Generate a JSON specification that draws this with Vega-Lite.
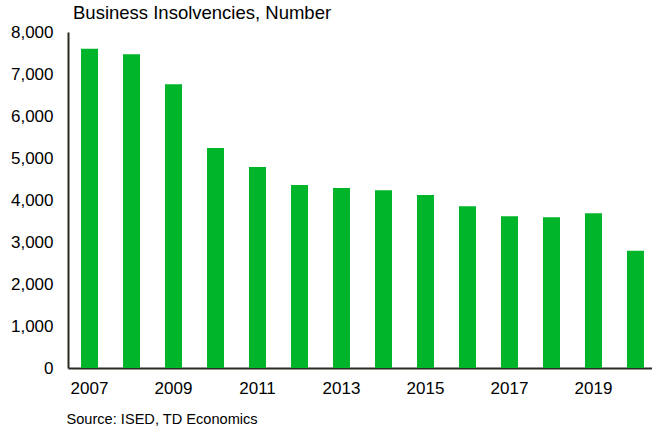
{
  "$schema": "https://vega.github.io/schema/vega-lite/v6.json",
  "autosize": "none",
  "width": 589,
  "height": 336,
  "padding": {"left": 68, "top": 32, "right": 0, "bottom": 61},
  "background": "white",
  "title": {
    "text": "Business Insolvencies, Number",
    "anchor": "start",
    "frame": "group",
    "dx": 5,
    "dy": 24,
    "offset": 10,
    "baseline": "alphabetic",
    "font": "Liberation Sans",
    "fontSize": 18.5,
    "fontWeight": "normal",
    "color": "#000000"
  },
  "config": {
    "view": {"stroke": null},
    "font": "Liberation Sans"
  },
  "data": {
    "values": [
      {"year": 2007, "value": 7600},
      {"year": 2008, "value": 7470},
      {"year": 2009, "value": 6755},
      {"year": 2010, "value": 5240},
      {"year": 2011, "value": 4785},
      {"year": 2012, "value": 4357},
      {"year": 2013, "value": 4286},
      {"year": 2014, "value": 4231},
      {"year": 2015, "value": 4119},
      {"year": 2016, "value": 3850},
      {"year": 2017, "value": 3612},
      {"year": 2018, "value": 3588},
      {"year": 2019, "value": 3683},
      {"year": 2020, "value": 2793}
    ]
  },
  "mark": {"type": "bar", "color": "#00b52a"},
  "encoding": {
    "x": {
      "field": "year",
      "type": "ordinal",
      "scale": {"paddingInner": 0.595, "paddingOuter": 0.31},
      "axis": {
        "values": [2007, 2009, 2011, 2013, 2015, 2017, 2019],
        "labelAngle": 0,
        "ticks": false,
        "labelPadding": 12,
        "labelFontSize": 17,
        "labelColor": "#000000",
        "domainColor": "#2a2a22",
        "domainWidth": 2,
        "title": "Source: ISED, TD Economics",
        "titleFontSize": 14.6,
        "titleFontWeight": "normal",
        "titleColor": "#000000",
        "titleAnchor": "start",
        "titleAlign": "left",
        "titleX": -2,
        "titleY": 55,
        "titleBaseline": "alphabetic"
      }
    },
    "y": {
      "field": "value",
      "type": "quantitative",
      "scale": {"domain": [0, 8000], "nice": false},
      "axis": {
        "values": [0, 1000, 2000, 3000, 4000, 5000, 6000, 7000, 8000],
        "format": ",d",
        "grid": false,
        "ticks": false,
        "labelPadding": 15,
        "labelFontSize": 17,
        "labelColor": "#000000",
        "domainColor": "#2a2a22",
        "domainWidth": 2,
        "title": null
      }
    }
  }
}
